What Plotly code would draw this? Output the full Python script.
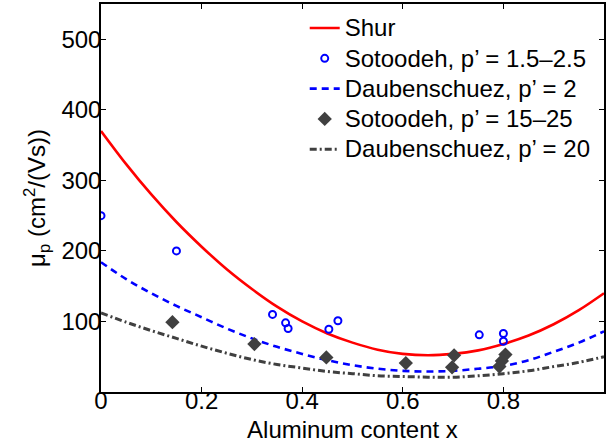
import plotly.graph_objects as go

# ---- data ----
x_curve = [0.0, 0.05, 0.1, 0.15, 0.2, 0.25, 0.3, 0.35, 0.4, 0.45, 0.5,
           0.55, 0.6, 0.65, 0.7, 0.75, 0.8, 0.85, 0.9, 0.95, 1.0]
shur = [370, 323, 280, 241, 206, 174, 146, 121, 100, 83, 70,
        60, 54, 52, 54, 59, 68, 80, 96, 116, 140]
daub_p2 = [184, 160, 140, 122, 106, 90, 76, 64, 54, 45, 38,
           33, 30, 29, 30, 33, 37, 45, 57, 70, 86]
daub_p20 = [112, 99, 87, 76, 65, 55, 46, 39, 34, 29, 26,
            23, 22, 21, 21, 23, 26, 30, 36, 42, 50]

sot_low_x = [0.0, 0.15, 0.341, 0.367, 0.372, 0.453, 0.471, 0.752, 0.8, 0.8]
sot_low_y = [250, 200, 110, 98, 90, 89, 101, 81, 83, 72]

sot_high_x = [0.142, 0.305, 0.448, 0.606, 0.702, 0.698, 0.804, 0.797, 0.792]
sot_high_y = [99, 68, 49, 41, 52, 35, 53, 44, 36]

x_ticks = [0, 0.2, 0.4, 0.6, 0.8, 1]
x_ticktext = ["0", "0.2", "0.4", "0.6", "0.8", "1"]
y_ticks = [100, 200, 300, 400, 500]

FONT = "Liberation Sans, Arial, Helvetica, sans-serif"
GRAY = "#404040"


def leg(txt):
    return '<span style="font-size:24px">' + txt + '</span>'


fig = go.Figure()
fig.add_trace(go.Scatter(x=x_curve, y=shur, mode="lines", name=leg("Shur"),
                         line=dict(color="#ff0000", width=2.6, shape="spline")))
fig.add_trace(go.Scatter(x=sot_low_x, y=sot_low_y, mode="markers",
                         name=leg("Sotoodeh, p’ = 1.5–2.5"),
                         marker=dict(symbol="circle-open", size=7, color="#0000ff",
                                     line=dict(width=2, color="#0000ff"))))
fig.add_trace(go.Scatter(x=x_curve, y=daub_p2, mode="lines",
                         name=leg("Daubenschuez, p’ = 2"),
                         line=dict(color="#0000ff", width=2.6, dash="7px,5px",
                                   shape="spline")))
fig.add_trace(go.Scatter(x=sot_high_x, y=sot_high_y, mode="markers",
                         name=leg("Sotoodeh, p’ = 15–25"),
                         marker=dict(symbol="diamond", size=11, color=GRAY,
                                     line=dict(width=0))))
fig.add_trace(go.Scatter(x=x_curve, y=daub_p20, mode="lines",
                         name=leg("Daubenschuez, p’ = 20"),
                         line=dict(color=GRAY, width=3, dash="7px,3px,2px,3px",
                                   shape="spline")))

fig.update_layout(
    width=606, height=446,
    margin=dict(l=101, r=0, t=4, b=54),
    paper_bgcolor="white", plot_bgcolor="white",
    font=dict(family=FONT, size=24, color="black"),
    showlegend=True,
    legend=dict(x=0.405, y=0.99, xanchor="left", yanchor="top",
                bgcolor="rgba(0,0,0,0)", borderwidth=0,
                font=dict(family=FONT, size=21, color="black"),
                tracegroupgap=0, itemwidth=30),
    xaxis=dict(range=[0, 1], tickvals=x_ticks, ticktext=x_ticktext,
               ticks="inside", ticklen=5, tickcolor="black", tickwidth=1,
               showline=True, linecolor="black", linewidth=1.5, mirror="allticks",
               showgrid=False, zeroline=False,
               ticklabelposition="outside", ticklabelstandoff=-14,
               tickfont=dict(family=FONT, size=24),
               title=dict(text="Aluminum content x", standoff=9,
                          font=dict(family=FONT, size=24))),
    yaxis=dict(range=[0, 550], tickvals=y_ticks,
               ticks="inside", ticklen=5, tickcolor="black", tickwidth=1,
               showline=True, linecolor="black", linewidth=1.5, mirror="allticks",
               showgrid=False, zeroline=False,
               ticklabelposition="outside", ticklabelstandoff=-7,
               tickfont=dict(family=FONT, size=24),
               title=dict(text="μ<sub>p</sub> (cm<sup>2</sup>/(Vs))", standoff=9,
                          font=dict(family=FONT, size=24))),
)

fig.write_html("out.html")
